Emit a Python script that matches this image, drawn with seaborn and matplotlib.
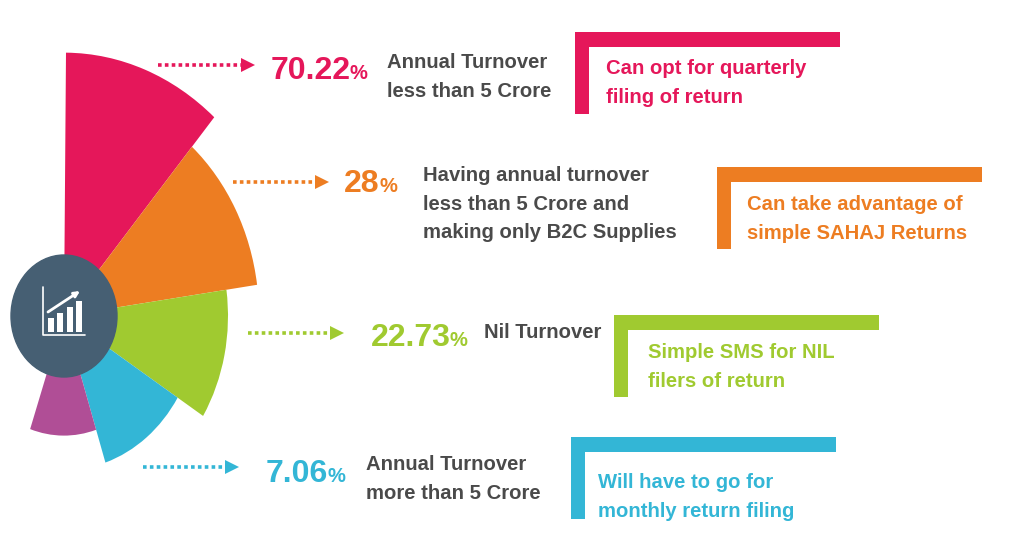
import numpy as np
import matplotlib
matplotlib.use("Agg")
import matplotlib.pyplot as plt
from matplotlib.patches import Ellipse, Rectangle
import seaborn as sns

# ----------------------------------
# Data
# ----------------------------------

sector_names = ["pink", "orange", "green", "blue", "purple"]
sector_edges = [0.5, 41, 82, 122, 162, 199]
sector_reach = [229, 195, 164, 134, 104]

share_labels = ["70.22", "28", "22.73", "7.06"]
descriptions = [
    "Annual Turnover\nless than 5 Crore",
    "Having annual turnover\nless than 5 Crore and\nmaking only B2C Supplies",
    "Nil Turnover",
    "Annual Turnover\nmore than 5 Crore",
]
notes = [
    "Can opt for quarterly\nfiling of return",
    "Can take advantage of\nsimple SAHAJ Returns",
    "Simple SMS for NIL\nfilers of return",
    "Will have to go for\nmonthly return filing",
]

colors = ["#E5175A", "#ED7D22", "#A0CA30", "#33B6D6", "#B04E96"]
circle_color = "#465F73"
text_color = "#4A4A4A"

W, H = 1024, 551
CX, CY = 64, 316
RMAX = 250
STRETCH = 1.15

sns.set_theme(style="white")
plt.rcParams["font.family"] = ["Liberation Sans", "DejaVu Sans"]

fig = plt.figure(figsize=(W / 100, H / 100), dpi=100, facecolor="white")

# ----------------------------------
# Sectors
# ----------------------------------

ax_w = 2 * RMAX / W
ax_h = 2 * RMAX * STRETCH / H
ax = fig.add_axes(
    [(CX - RMAX) / W, 1 - CY / H - ax_h / 2, ax_w, ax_h],
    projection="polar",
)
ax.set_aspect("auto")
ax.set_theta_zero_location("N")
ax.set_theta_direction(-1)

edges = np.deg2rad(sector_edges)
sns.barplot(
    x=(edges[:-1] + edges[1:]) / 2,
    y=sector_reach,
    hue=sector_names,
    palette=colors,
    native_scale=True,
    width=1,
    gap=0,
    dodge=False,
    legend=False,
    saturation=1,
    linewidth=0,
    ax=ax,
)
# sectors are not all equally wide, seaborn gives them one width
for patch, start, stop in zip(ax.patches, edges[:-1], edges[1:]):
    patch.set_x(start)
    patch.set_width(stop - start)

ax.set_rlim(0, RMAX)
ax.set_thetalim(0, 2 * np.pi)
ax.axis("off")

# ----------------------------------
# Overlay in picture pixels
# ----------------------------------

over = fig.add_axes([0, 0, 1, 1], facecolor="none")
over.set_xlim(0, W)
over.set_ylim(H, 0)
over.axis("off")

over.add_patch(Ellipse((64, 316), 106, 122, color=circle_color, zorder=3))

# chart icon
over.plot([42.5, 42.5, 84.5], [287, 335, 335], color="white", lw=1.2, zorder=4)
for x0, y0 in zip([48, 57, 67, 76], [318, 313, 307, 301]):
    over.add_patch(Rectangle((x0, y0), 6, 332 - y0, color="white", lw=0, zorder=4))
over.annotate(
    "", xy=(80, 291), xytext=(48, 312), zorder=4,
    arrowprops=dict(arrowstyle="-|>", color="white", lw=2, mutation_scale=8,
                    shrinkA=0, shrinkB=0),
)

# dotted arrows
arrow_x0 = [158, 233, 248, 143]
arrow_x1 = [245, 319, 334, 229]
arrow_y = [65, 182, 333, 467]
for x0, x1, y, c in zip(arrow_x0, arrow_x1, arrow_y, colors):
    over.plot([x0, x1], [y, y], color=c, lw=2.6, dashes=(1, 0.9),
              dash_capstyle="butt")
    over.plot([x1 + 3], [y], marker=">", ms=9.5, mew=0, color=c)

# big numbers
num_x = [271, 344, 371, 266]
num_y = [67, 180, 334, 470]
pct_x = [350, 379, 449, 328]
for label, x, px, y, c in zip(share_labels, num_x, pct_x, num_y, colors):
    over.text(x, y + 12, label, color=c, fontsize=23, fontweight="bold",
              ha="left", va="baseline")
    over.text(px, y + 12, "%", color=c, fontsize=14.5, fontweight="bold",
              ha="left", va="baseline")

# descriptions
desc_x = [387, 423, 484, 366]
desc_y = [61, 174, 331, 463]
for txt, x, y in zip(descriptions, desc_x, desc_y):
    for i, line in enumerate(txt.split("\n")):
        over.text(x, y + i * 28.7 + 7, line, color=text_color, fontsize=14.6,
                  fontweight="bold", ha="left", va="baseline")

# L brackets and notes
box_x = [575, 717, 614, 571]
box_y = [32, 167, 315, 437]
note_x = [606, 747, 648, 598]
note_y = [67, 203, 351, 481]
for txt, bx, by, nx, ny, c in zip(notes, box_x, box_y, note_x, note_y, colors):
    over.add_patch(Rectangle((bx, by), 265, 15, color=c, lw=0))
    over.add_patch(Rectangle((bx, by), 14, 82, color=c, lw=0))
    for i, line in enumerate(txt.split("\n")):
        over.text(nx, ny + i * 29 + 7, line, color=c, fontsize=14.6,
                  fontweight="bold", ha="left", va="baseline")

fig.savefig("out.png", dpi=100, facecolor="white")
